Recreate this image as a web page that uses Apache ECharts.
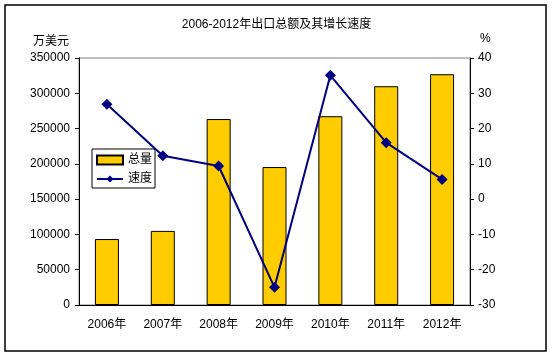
<!DOCTYPE html>
<html><head><meta charset="utf-8">
<script src="https://cdn.jsdelivr.net/npm/echarts@6/dist/echarts.min.js"></script>
<style>html,body{margin:0;padding:0;background:#fff}#c{width:553px;height:357px}</style>
</head><body><div id="c"></div>
<script>
const categories = ['2006年','2007年','2008年','2009年','2010年','2011年','2012年'];
const totalValues = [93500, 105000, 263500, 195500, 267500, 310000, 327000];
const speedValues = [26.9, 12.3, 9.4, -25.0, 35.1, 16.0, 5.6];
const FONT = '"Liberation Sans", Arial, "Noto Sans CJK SC", sans-serif';
const chart = echarts.init(document.getElementById('c'));
chart.setOption({
  animation: false,
  backgroundColor: '#fff',
  textStyle: { fontFamily: FONT },
  title: {
    text: '2006-2012年出口总额及其增长速度',
    left: 'center', top: 14,
    textStyle: { fontSize: 12, fontWeight: 'normal', color: '#000', fontFamily: FONT }
  },
  graphic: [
    { type: 'rect', shape: { x: 5, y: 5, width: 541, height: 346 },
      style: { fill: 'none', stroke: '#000', lineWidth: 1.5 }, z: 100 }
  ],
  grid: { left: 79, right: 83, top: 58, bottom: 52, show: true, borderColor: '#808080', borderWidth: 1 },
  legend: {
    orient: 'vertical', left: 92, top: 149,
    borderColor: '#000', borderWidth: 1, padding: [5, 3, 3, 4], itemGap: 7,
    itemWidth: 26, itemHeight: 9,
    textStyle: { fontSize: 12, color: '#000', fontFamily: FONT },
    data: [{ name: '总量', icon: 'rect' }, { name: '速度' }]
  },
  xAxis: {
    type: 'category', data: categories,
    axisLine: { lineStyle: { color: '#000', width: 1 } },
    axisTick: { inside: true, length: 4, lineStyle: { color: '#000' } },
    axisLabel: { color: '#000', fontSize: 12, margin: 14, fontFamily: FONT }
  },
  yAxis: [
    { type: 'value', min: 0, max: 350000, interval: 50000,
      name: '万美元', nameLocation: 'end', nameGap: 10,
      nameTextStyle: { color: '#000', fontSize: 12, align: 'right', padding: [0, 10, 0, 0], fontFamily: FONT },
      axisLine: { show: true, lineStyle: { color: '#000' } },
      axisTick: { show: true, length: 4, lineStyle: { color: '#000' } },
      axisLabel: { color: '#000', fontSize: 12, margin: 9, fontFamily: FONT, formatter: function (v) { return String(v); } },
      splitLine: { show: false } },
    { type: 'value', min: -30, max: 40, interval: 10,
      name: '%', nameLocation: 'end', nameGap: 13,
      nameTextStyle: { color: '#000', fontSize: 12, align: 'left', padding: [0, 0, 0, 10], fontFamily: FONT },
      axisLine: { show: true, lineStyle: { color: '#000' } },
      axisTick: { show: true, length: 4, lineStyle: { color: '#000' } },
      axisLabel: { color: '#000', fontSize: 12, margin: 8, fontFamily: FONT },
      splitLine: { show: false } }
  ],
  series: [
    { name: '总量', type: 'bar', data: totalValues, barWidth: 24, yAxisIndex: 0,
      itemStyle: { color: '#FFCC00', borderColor: '#000', borderWidth: 1 } },
    { name: '速度', type: 'line', data: speedValues, yAxisIndex: 1,
      symbol: 'diamond', symbolSize: 11,
      lineStyle: { color: '#000080', width: 2 },
      itemStyle: { color: '#000080' } }
  ]
});
</script></body></html>
